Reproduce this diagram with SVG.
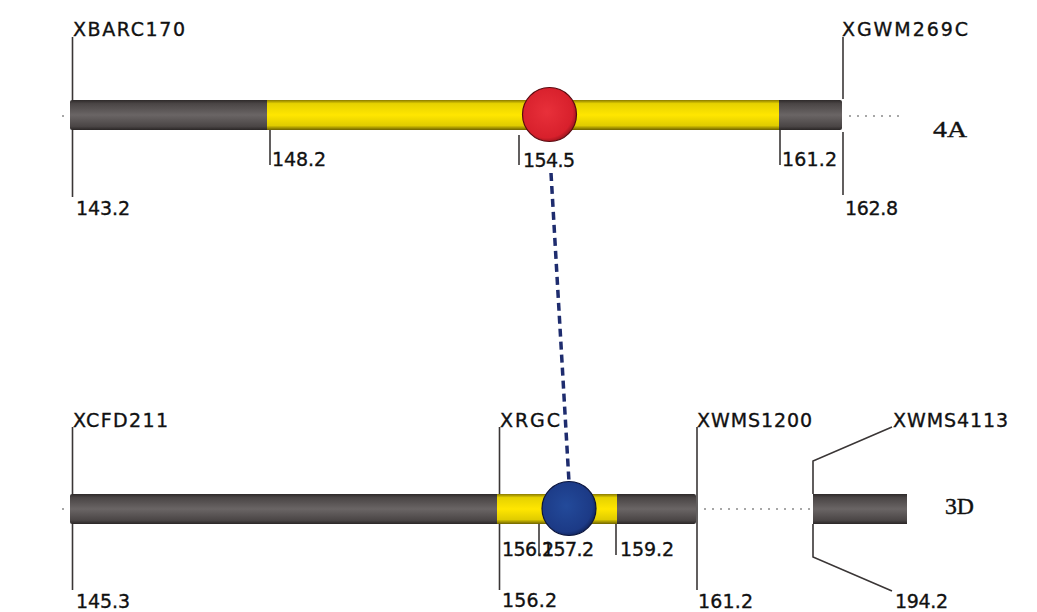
<svg xmlns="http://www.w3.org/2000/svg" width="1037" height="612" viewBox="0 0 1037 612">
<style>
.lbl{font-family:"DejaVu Sans","Liberation Sans",sans-serif;font-size:19px;fill:#111;stroke:#111;stroke-width:0.35;}
.chr{font-family:"Liberation Serif","DejaVu Serif",serif;font-size:23px;fill:#111;stroke:#111;stroke-width:0.4;}
.tk{stroke:#3a3636;stroke-width:1.6;fill:none;}
.dot{stroke:#8a8a8a;stroke-width:1.5;stroke-dasharray:2 6;fill:none;}
</style>
<defs>
<linearGradient id="grey" x1="0" y1="0" x2="0" y2="1">
<stop offset="0" stop-color="#2e2a2a"/>
<stop offset="0.12" stop-color="#4a4545"/>
<stop offset="0.5" stop-color="#6a6565"/>
<stop offset="0.88" stop-color="#4a4545"/>
<stop offset="1" stop-color="#2a2626"/>
</linearGradient>
<linearGradient id="yel" x1="0" y1="0" x2="0" y2="1">
<stop offset="0" stop-color="#8a7a00"/>
<stop offset="0.12" stop-color="#e6d200"/>
<stop offset="0.5" stop-color="#ffe600"/>
<stop offset="0.85" stop-color="#e0cc00"/>
<stop offset="1" stop-color="#6e6200"/>
</linearGradient>
<radialGradient id="red" cx="0.45" cy="0.45" r="0.6">
<stop offset="0" stop-color="#e8303a"/>
<stop offset="0.8" stop-color="#d8202c"/>
<stop offset="1" stop-color="#8a1018"/>
</radialGradient>
<radialGradient id="blue" cx="0.45" cy="0.45" r="0.6">
<stop offset="0" stop-color="#234a9a"/>
<stop offset="0.8" stop-color="#1c3a86"/>
<stop offset="1" stop-color="#0e1e50"/>
</radialGradient>
</defs>

<g id="connectors">
<line x1="551" y1="173" x2="569" y2="482" stroke="#1e2c6e" stroke-width="3.5" stroke-dasharray="8 5"/>
</g>

<g id="chr4A">
<line class="dot" x1="62" y1="116" x2="68" y2="116"/>
<rect x="70" y="100" width="772" height="30" rx="2" fill="url(#grey)"/>
<rect x="267" y="100" width="512" height="30" fill="url(#yel)"/>
<line class="dot" x1="849" y1="116" x2="905" y2="116"/>
<text class="chr" x="933" y="137" textLength="34" lengthAdjust="spacingAndGlyphs">4A</text>
</g>

<g id="marker-XBARC170">
<line class="tk" x1="72.5" y1="37" x2="72.5" y2="100"/>
<line class="tk" x1="72.5" y1="130" x2="72.5" y2="197"/>
<text class="lbl" x="73" y="36" textLength="112">XBARC170</text>
<text class="lbl" x="76" y="215" textLength="54">143.2</text>
</g>
<g id="tick-148.2">
<line class="tk" x1="270" y1="130" x2="270" y2="165"/>
<text class="lbl" x="272" y="166" textLength="54">148.2</text>
</g>
<g id="tick-154.5">
<line class="tk" x1="519" y1="135" x2="519" y2="165"/>
<text class="lbl" x="523" y="167" textLength="52">154.5</text>
</g>
<g id="tick-161.2">
<line class="tk" x1="780" y1="130" x2="780" y2="165"/>
<text class="lbl" x="782" y="166" textLength="55">161.2</text>
</g>
<g id="marker-XGWM269C">
<line class="tk" x1="843" y1="37" x2="843" y2="99"/>
<line class="tk" x1="843" y1="132" x2="843" y2="195"/>
<text class="lbl" x="842" y="36" textLength="126">XGWM269C</text>
<text class="lbl" x="845" y="215" textLength="53">162.8</text>
</g>
<g id="qtl-4A">
<circle cx="549.5" cy="114.5" r="27" fill="url(#red)" stroke="#5a0a10" stroke-width="1.2"/>
</g>

<g id="chr3D">
<line class="dot" x1="62" y1="509" x2="68" y2="509"/>
<rect x="70" y="494" width="626" height="30" rx="2" fill="url(#grey)"/>
<rect x="497" y="494" width="120" height="30" fill="url(#yel)"/>
<line class="dot" x1="704" y1="509" x2="812" y2="509"/>
<rect x="813" y="494" width="94" height="30" fill="url(#grey)"/>
<text class="chr" x="945" y="514" textLength="29" lengthAdjust="spacingAndGlyphs">3D</text>
</g>

<g id="marker-XCFD211">
<line class="tk" x1="72.5" y1="427" x2="72.5" y2="494"/>
<line class="tk" x1="72.5" y1="524" x2="72.5" y2="590"/>
<text class="lbl" x="73" y="427" textLength="95">XCFD211</text>
<text class="lbl" x="76" y="608" textLength="54">145.3</text>
</g>
<g id="marker-XRGC">
<line class="tk" x1="499.5" y1="427" x2="499.5" y2="494"/>
<line class="tk" x1="499.5" y1="524" x2="499.5" y2="590"/>
<text class="lbl" x="500" y="427" textLength="60">XRGC</text>
<text class="lbl" x="502" y="556" textLength="52">156.2</text>
<text class="lbl" x="502" y="607" textLength="55">156.2</text>
</g>
<g id="tick-157.2">
<line class="tk" x1="539" y1="524" x2="539" y2="555"/>
<text class="lbl" x="542" y="556" textLength="52">157.2</text>
</g>
<g id="tick-159.2">
<line class="tk" x1="616" y1="524" x2="616" y2="555"/>
<text class="lbl" x="620" y="556" textLength="54">159.2</text>
</g>
<g id="marker-XWMS1200">
<line class="tk" x1="697" y1="427" x2="697" y2="590"/>
<text class="lbl" x="697" y="427" textLength="115">XWMS1200</text>
<text class="lbl" x="698" y="608" textLength="55">161.2</text>
</g>
<g id="marker-XWMS4113">
<polyline class="tk" points="892,427 813,461 813,494"/>
<polyline class="tk" points="813,524 813,557 892,591"/>
<text class="lbl" x="893" y="427" textLength="115">XWMS4113</text>
<text class="lbl" x="895" y="608" textLength="53">194.2</text>
</g>
<g id="qtl-3D">
<circle cx="569" cy="508.5" r="27" fill="url(#blue)" stroke="#0a143c" stroke-width="1.2"/>
</g>
</svg>
